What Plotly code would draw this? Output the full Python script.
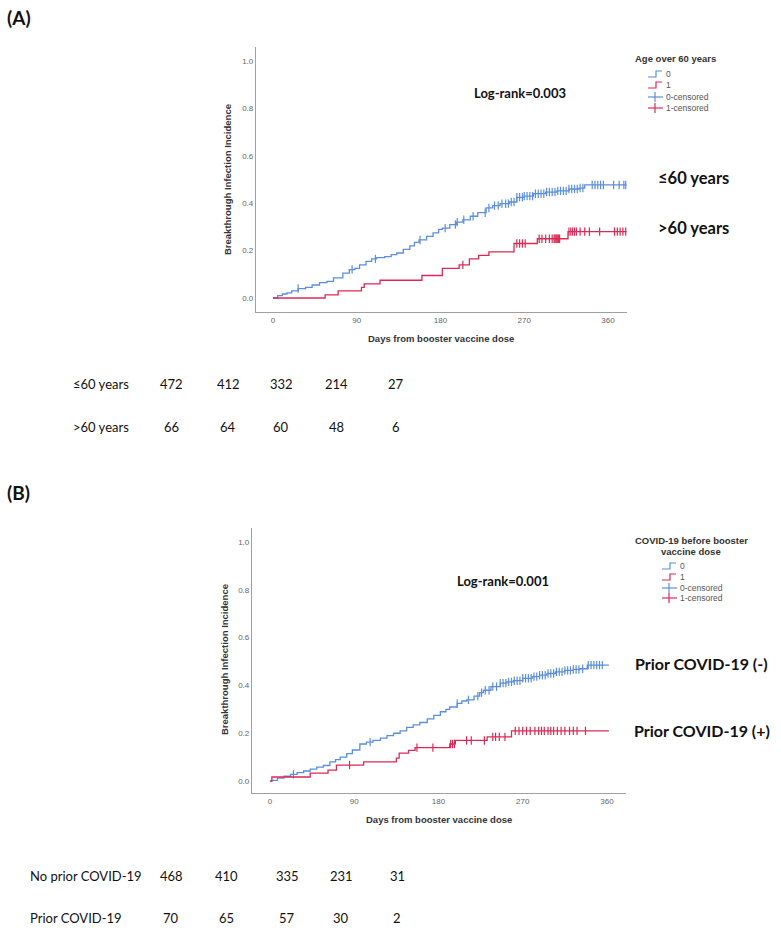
import numpy as np
import plotly.graph_objects as go

W, H = 781, 931

# ---------------- data ----------------
# Panel A: age over 60 years
a_le60_t = [0, 5, 10, 15, 20, 27, 35, 42, 50, 58, 65, 75, 82, 88, 93, 100, 106, 111, 120, 127, 133,
            140, 147, 152, 157, 165, 172, 178, 182, 190, 197, 204, 212, 220, 229, 236, 244, 254, 262,
            270, 280, 293, 305, 318, 329, 335, 380]
a_le60_y = [0, 0.01, 0.017, 0.022, 0.03, 0.04, 0.045, 0.055, 0.065, 0.07, 0.085, 0.105, 0.12, 0.125,
            0.14, 0.155, 0.165, 0.17, 0.175, 0.183, 0.19, 0.205, 0.22, 0.235, 0.245, 0.26, 0.275, 0.29,
            0.295, 0.31, 0.32, 0.33, 0.345, 0.36, 0.38, 0.39, 0.398, 0.405, 0.425, 0.43, 0.44, 0.447,
            0.452, 0.46, 0.464, 0.477, 0.477]
a_le60_cens = [27, 85, 110, 158, 185, 196, 198, 205, 215, 228, 232, 238, 242, 246, 250, 253, 256, 259,
               262, 265, 268, 270, 273, 276, 279, 282, 285, 288, 291, 294, 297, 300, 303, 306, 309, 312,
               315, 318, 321, 324, 327, 330, 333, 343, 346, 349, 352, 355, 366, 372, 377, 379]

a_gt60_t = [0, 56, 70, 95, 98, 115, 160, 182, 200, 211, 221, 232, 259, 284, 317, 380]
a_gt60_y = [0, 0.013, 0.03, 0.045, 0.06, 0.075, 0.095, 0.125, 0.14, 0.165, 0.18, 0.195, 0.23, 0.25,
            0.28, 0.28]
a_gt60_cens = [204, 262, 265, 268, 271, 286, 289, 293, 297, 300, 302, 303, 304, 305, 306, 307, 308,
               318, 320, 322, 324, 326, 330, 335, 340, 351, 367, 370, 373, 376, 379]

# Panel B: COVID-19 before booster vaccine dose
b_no_t = [0, 2, 8, 15, 22, 29, 36, 43, 50, 57, 64, 70, 75, 82, 88, 96, 103, 110, 118, 125, 132, 139,
          146, 153, 160, 168, 175, 182, 188, 192, 200, 205, 210, 218, 224, 228, 236, 246, 253, 260, 270,
          280, 288, 296, 305, 315, 324, 331, 339, 362]
b_no_y = [0, 0.003, 0.012, 0.02, 0.028, 0.035, 0.042, 0.05, 0.058, 0.065, 0.08, 0.09, 0.1, 0.115, 0.13,
          0.155, 0.163, 0.17, 0.18, 0.19, 0.2, 0.21, 0.225, 0.235, 0.245, 0.26, 0.275, 0.29, 0.3, 0.31,
          0.325, 0.335, 0.34, 0.355, 0.37, 0.38, 0.395, 0.41, 0.415, 0.42, 0.43, 0.437, 0.443, 0.45,
          0.457, 0.463, 0.467, 0.47, 0.485, 0.485]
b_no_cens = [25, 107, 200, 212, 222, 226, 230, 234, 238, 242, 246, 249, 252, 255, 258, 261, 264, 267,
             270, 273, 276, 279, 282, 285, 288, 291, 294, 297, 300, 303, 306, 309, 312, 315, 318, 321,
             324, 327, 330, 334, 340, 343, 346, 349, 352, 355]

b_yes_t = [0, 2, 43, 62, 71, 100, 135, 138, 148, 155, 192, 198, 232, 258, 362]
b_yes_y = [0, 0.017, 0.033, 0.046, 0.067, 0.08, 0.096, 0.117, 0.128, 0.14, 0.155, 0.17, 0.185, 0.21,
           0.21]
b_yes_cens = [85, 157, 174, 193, 195, 197, 210, 215, 229, 238, 241, 245, 251, 262, 266, 270, 274, 278,
              283, 287, 290, 293, 297, 300, 303, 307, 311, 315, 320, 324, 328, 337]

x_ticks = [0, 90, 180, 270, 360]
y_ticks = [0.0, 0.2, 0.4, 0.6, 0.8, 1.0]

# numbers at risk
risk_a_labels = ["≤60 years", ">60 years"]
risk_a_le60 = [472, 412, 332, 214, 27]
risk_a_gt60 = [66, 64, 60, 48, 6]
risk_b_labels = ["No prior COVID-19", "Prior COVID-19"]
risk_b_no = [468, 410, 335, 231, 31]
risk_b_yes = [70, 65, 57, 30, 2]

# ---------------- style ----------------
BLUE = "#5b8fdc"
RED = "#dc2a55"
HUM = "Lato, Roboto, sans-serif"
SANS = "Liberation Sans, Arial, sans-serif"


def px(x):
    return x / W


def py(y):
    return 1 - y / H


def step_lookup(t, y, q):
    t = np.asarray(t, float)
    y = np.asarray(y, float)
    idx = np.searchsorted(t, np.asarray(q, float), side="right") - 1
    return y[np.clip(idx, 0, len(y) - 1)]


fig = go.Figure()

panels = [
    dict(xa="x", ya="y", series=[(a_le60_t, a_le60_y, a_le60_cens, BLUE),
                                 (a_gt60_t, a_gt60_y, a_gt60_cens, RED)]),
    dict(xa="x2", ya="y2", series=[(b_no_t, b_no_y, b_no_cens, BLUE),
                                   (b_yes_t, b_yes_y, b_yes_cens, RED)]),
]
for p in panels:
    for t, y, c, col in p["series"]:
        fig.add_trace(go.Scatter(x=t, y=y, mode="lines", line=dict(color=col, width=1.3, shape="hv"),
                                 xaxis=p["xa"], yaxis=p["ya"], showlegend=False, hoverinfo="skip"))
        fig.add_trace(go.Scatter(x=c, y=step_lookup(t, y, c), mode="markers",
                                 marker=dict(symbol="line-ns-open", size=6, color=col,
                                             line=dict(color=col, width=1.2)),
                                 xaxis=p["xa"], yaxis=p["ya"], showlegend=False, hoverinfo="skip"))

axis_common = dict(showgrid=False, zeroline=False, showline=True, linecolor="#a0a0a0", linewidth=1.3,
                   ticks="", tickfont=dict(family=SANS, size=8, color="#666666"), fixedrange=True)

fig.update_layout(
    width=W, height=H, margin=dict(l=0, r=0, t=0, b=0),
    paper_bgcolor="white", plot_bgcolor="white", showlegend=False,
    xaxis=dict(domain=[px(256), px(627)], range=[-18.3, 380.4], anchor="y",
               tickvals=x_ticks, **axis_common),
    yaxis=dict(domain=[py(312), py(47)], range=[-0.059, 1.059], anchor="x",
               tickvals=y_ticks, tickformat=".1f", **axis_common),
    xaxis2=dict(domain=[px(252), px(626)], range=[-19.2, 380.3], anchor="y2",
                tickvals=x_ticks, **axis_common),
    yaxis2=dict(domain=[py(793), py(528)], range=[-0.050, 1.059], anchor="x2",
                tickvals=y_ticks, tickformat=".1f", **axis_common),
)

ann = []


def text(x, y, s, size, family=HUM, color="#111111", bold=False, xanchor="center", angle=0):
    if bold:
        s = "<b>" + s + "</b>"
    ann.append(dict(x=px(x), y=py(y), xref="paper", yref="paper", text=s, showarrow=False,
                    xanchor=xanchor, yanchor="middle", textangle=angle,
                    font=dict(family=family, size=size, color=color)))


# panel letters
text(5, 18, "(A)", 19, bold=True, xanchor="left")
text(5, 493, "(B)", 19, bold=True, xanchor="left")

# axis titles
for (xc, yx, yc, ytitle_x) in [(441, 338, 180, 228), (439, 819, 660, 224)]:
    text(xc, yx, "Days from booster vaccine dose", 9.5, family=SANS, color="#333333", bold=True)
    text(ytitle_x, yc, "Breakthrough Infection Incidence", 9.5, family=SANS, color="#333333",
         bold=True, angle=-90)

# log-rank
text(520, 93, "Log-rank=0.003", 13, bold=True)
text(503, 581, "Log-rank=0.001", 13, bold=True)

# curve labels
text(656, 178, "≤60 years", 16.5, xanchor="left", bold=True)
text(656, 228, ">60 years", 16.5, xanchor="left", bold=True)
text(633, 663, "Prior COVID-19 (-)", 16, xanchor="left", bold=True)
text(632, 730, "Prior COVID-19 (+)", 16, xanchor="left", bold=True)

# number-at-risk tables
col_a = [171, 228, 281, 336, 396]
col_b = [171, 226, 287, 341, 397]
for lab, vals, yy in [(risk_a_labels[0], risk_a_le60, 384), (risk_a_labels[1], risk_a_gt60, 427)]:
    text(71, yy, lab, 13, xanchor="left")
    for xc, v in zip(col_a, vals):
        text(xc, yy, str(v), 13)
for lab, vals, yy in [(risk_b_labels[0], risk_b_no, 876), (risk_b_labels[1], risk_b_yes, 918)]:
    text(28, yy, lab, 13, xanchor="left")
    for xc, v in zip(col_b, vals):
        text(xc, yy, str(v), 13)

# legends (custom, SPSS style)
shapes = []


def legend(title_lines, title_x, title_y0, title_anchor, gx, rows_y):
    for i, tl in enumerate(title_lines):
        text(title_x, title_y0 + i * 11, tl, 9.5, family=SANS, color="#333333", bold=True,
             xanchor=title_anchor)
    labels = ["0", "1", "0-censored", "1-censored"]
    cols = [BLUE, RED, BLUE, RED]
    for k, (lab, col, yy) in enumerate(zip(labels, cols, rows_y)):
        if k < 2:
            path = "M {},{} L {},{} L {},{} L {},{}".format(
                px(gx), py(yy + 3), px(gx + 8), py(yy + 3), px(gx + 8), py(yy - 3), px(gx + 14), py(yy - 3))
            shapes.append(dict(type="path", xref="paper", yref="paper", path=path,
                               line=dict(color=col, width=1.2)))
        else:
            shapes.append(dict(type="line", xref="paper", yref="paper", x0=px(gx), x1=px(gx + 15),
                               y0=py(yy), y1=py(yy), line=dict(color=col, width=1.2)))
            shapes.append(dict(type="line", xref="paper", yref="paper", x0=px(gx + 7), x1=px(gx + 7),
                               y0=py(yy - 5), y1=py(yy + 5), line=dict(color=col, width=1.2)))
        text(gx + 16, yy, lab, 8.5, family=SANS, color="#555555", xanchor="left")


legend(["Age over 60 years"], 633, 59, "left", 648, [74, 85, 97, 108])
legend(["COVID-19 before booster", "vaccine dose"], 691, 540, "center", 662, [566, 577, 588, 598])

fig.update_layout(annotations=ann, shapes=shapes)
fig.write_html("out.html")
